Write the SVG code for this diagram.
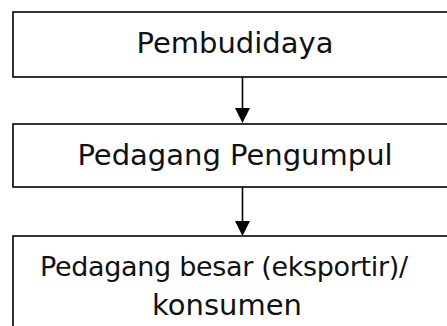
<svg xmlns="http://www.w3.org/2000/svg" width="447" height="326" viewBox="0 0 447 326">
  <style>
    .box { fill: #ffffff; stroke: #000000; stroke-width: 1.6; }
    .lbl { font-family: "DejaVu Sans", "Liberation Sans", sans-serif; font-size: 29px; fill: #111111; text-anchor: middle; }
    .conn { stroke: #000000; stroke-width: 1.6; fill: none; }
    .head { fill: #000000; }
  </style>
  <rect width="447" height="326" fill="#ffffff"/>
  <g id="connectors">
    <line class="conn" x1="242.5" y1="77" x2="242.5" y2="110"/>
    <polygon class="head" points="235,108 250,108 242.5,123"/>
    <line class="conn" x1="242.5" y1="187" x2="242.5" y2="222"/>
    <polygon class="head" points="235,221 250,221 242.5,236"/>
  </g>
  <g id="node-pembudidaya">
    <rect class="box" x="13" y="12" width="460" height="65"/>
    <text class="lbl" x="235" y="53">Pembudidaya</text>
  </g>
  <g id="node-pedagang-pengumpul">
    <rect class="box" x="13" y="124" width="460" height="63"/>
    <text class="lbl" x="235" y="165">Pedagang Pengumpul</text>
  </g>
  <g id="node-pedagang-besar">
    <rect class="box" x="13" y="236" width="460" height="120"/>
    <text class="lbl" x="224" y="276" style="font-size:27px" textLength="368" lengthAdjust="spacing">Pedagang besar (eksportir)/</text>
    <text class="lbl" x="227" y="315">konsumen</text>
  </g>
</svg>
